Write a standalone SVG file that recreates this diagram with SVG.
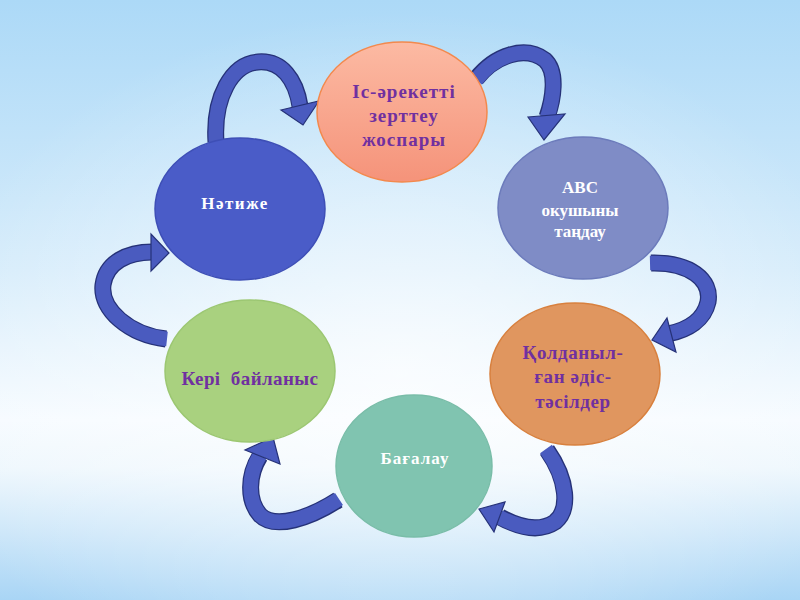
<svg xmlns="http://www.w3.org/2000/svg" width="800" height="600" viewBox="0 0 800 600">
<defs>
<linearGradient id="bg" x1="0" y1="0" x2="0" y2="1">
<stop offset="0" stop-color="#acd9f7"/>
<stop offset="0.45" stop-color="#d6ecfb"/>
<stop offset="0.7" stop-color="#f6fbff"/>
<stop offset="0.78" stop-color="#eef7fd"/>
<stop offset="1" stop-color="#a9d5f5"/>
</linearGradient>
<radialGradient id="glow" cx="0.5" cy="0.62" r="0.6">
<stop offset="0" stop-color="#ffffff" stop-opacity="0.7"/>
<stop offset="1" stop-color="#ffffff" stop-opacity="0"/>
</radialGradient>
<linearGradient id="g1" x1="0" y1="0" x2="0" y2="1">
<stop offset="0" stop-color="#fcbaa3"/>
<stop offset="1" stop-color="#f5937a"/>
</linearGradient>
<style>
.t{font-family:"Liberation Serif","Times New Roman",serif;font-weight:bold;text-anchor:middle}
.p{fill:#7030a0;font-size:19px}
.w{fill:#ffffff;font-size:17px}
.edge{fill:none;stroke:#263278;stroke-width:17}
.body{fill:none;stroke:#4a5bbf;stroke-width:14.5}
.head{fill:#4a5bbf;stroke:#263278;stroke-width:1.2;stroke-linejoin:miter}
</style>
</defs>
<rect width="800" height="600" fill="url(#bg)"/>
<rect width="800" height="600" fill="url(#glow)"/>

<g id="connectors">
<g id="a1">
<path class="edge" d="M216,142 C213,97 232,64 258,62 C282,60 296,80 300,106"/>
<path class="body" d="M216,143 C213,97 232,64 258,62 C282,60 296,80 300,107"/>
<polygon class="head" points="281,110 319,101 303,125"/>
</g>
<g id="a2">
<path class="edge" d="M476,79 C495,55 525,45 545,60 C558,72 553,100 547,117"/>
<path class="body" d="M476,80 C495,55 525,45 545,60 C558,72 553,100 547,118"/>
<polygon class="head" points="528,117 565,114 544,140"/>
</g>
<g id="a3">
<path class="edge" d="M651,263 C690,262 712,280 708,302 C704,320 688,330 668,334"/>
<path class="body" d="M650,263 C690,262 712,280 708,302 C704,320 688,330 667,334"/>
<polygon class="head" points="667,318 676,352 652,340"/>
</g>
<g id="a4">
<path class="edge" d="M547,450 C568,480 570,510 555,522 C540,532 520,528 500,517"/>
<path class="body" d="M546,449 C568,480 570,510 555,522 C540,532 520,528 499,517"/>
<polygon class="head" points="505,502 494,532 479,509"/>
</g>
<g id="a5">
<path class="edge" d="M338,500 C310,518 275,530 260,515 C247,500 248,475 260,456"/>
<path class="body" d="M339,499 C310,518 275,530 260,515 C247,500 248,475 260,455"/>
<polygon class="head" points="245,450 280,464 273,437"/>
</g>
<g id="a6">
<path class="edge" d="M166,339 C130,335 100,310 103,285 C106,262 128,252 152,252"/>
<path class="body" d="M167,339 C130,335 100,310 103,285 C106,262 128,252 153,252"/>
<polygon class="head" points="151,234 151,271 169,253"/>
</g>
</g>

<g id="n1">
<ellipse cx="402" cy="112" rx="85" ry="70" fill="url(#g1)" stroke="#f3894d" stroke-width="1.5"/>
<text class="t p" x="404" y="98" letter-spacing="1">Іс-әрекетті</text>
<text class="t p" x="404" y="122" letter-spacing="1">зерттеу</text>
<text class="t p" x="404" y="146" letter-spacing="1">жоспары</text>
</g>
<g id="n2">
<ellipse cx="583" cy="208" rx="85" ry="71" fill="#7f8cc6" stroke="#6c7bbb" stroke-width="1.5"/>
<text class="t w" x="580" y="193">ABC</text>
<text class="t w" x="580" y="216">окушыны</text>
<text class="t w" x="580" y="237">таңдау</text>
</g>
<g id="n3">
<ellipse cx="575" cy="374" rx="85" ry="71" fill="#e0965f" stroke="#d8803e" stroke-width="1.5"/>
<text class="t p" x="573" y="359" letter-spacing="0.6">Қолданыл-</text>
<text class="t p" x="573" y="383" letter-spacing="0.6">ған әдіс-</text>
<text class="t p" x="573" y="408" letter-spacing="0.6">тәсілдер</text>
</g>
<g id="n4">
<ellipse cx="414" cy="466" rx="78" ry="71" fill="#80c4b0" stroke="#79bda8" stroke-width="1.5"/>
<text class="t w" x="415" y="464" font-size="18" letter-spacing="1">Бағалау</text>
</g>
<g id="n5">
<ellipse cx="250" cy="371" rx="85" ry="71" fill="#a9d17f" stroke="#9cc772" stroke-width="1.5"/>
<text class="t p" x="250" y="385" letter-spacing="0.4" xml:space="preserve">Кері  байланыс</text>
</g>
<g id="n6">
<ellipse cx="240" cy="209" rx="85" ry="71" fill="#4a5cc8" stroke="#3e4fb6" stroke-width="1.5"/>
<text class="t w" x="235" y="209" font-size="18" letter-spacing="1.5">Нәтиже</text>
</g>
</svg>
